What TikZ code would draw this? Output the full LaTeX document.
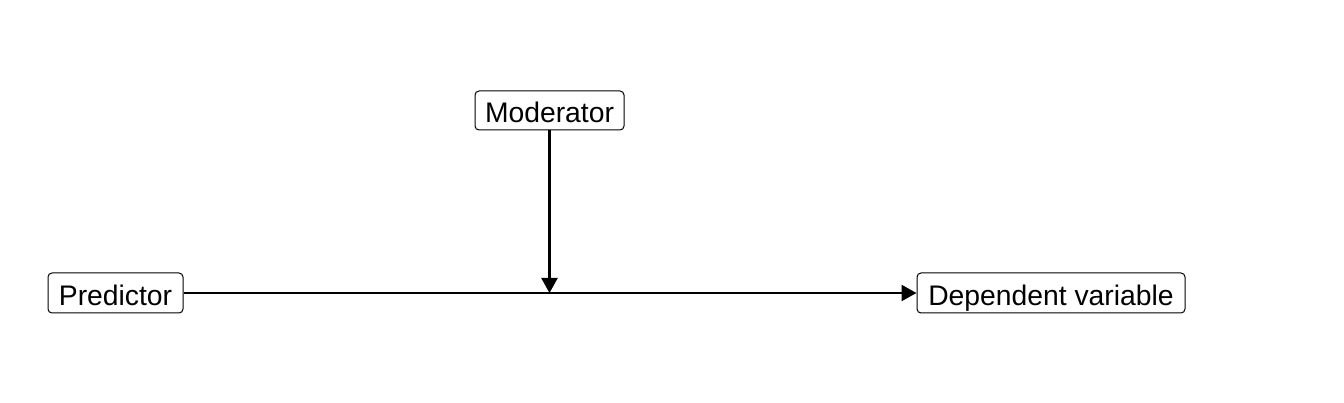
\documentclass[tikz,border=0pt]{standalone}
\usepackage{fontspec}
\setmainfont{Liberation Sans}
\usetikzlibrary{arrows.meta}
\begin{document}
\begin{tikzpicture}[x=1pt,y=-1pt,
  varbox/.style={draw, line width=1pt, rounded corners=4pt, inner sep=0pt, minimum height=40pt, font=\fontsize{28.3}{30}\selectfont, text height=26pt, text depth=1pt},
  conn/.style={line width=2.4pt, -{Triangle[length=15pt,width=16pt]}}]
\useasboundingbox (0,0) rectangle (1344,403);
\node[varbox, minimum width=135pt] (pred) at (115.5,293) {Predictor};
\node[varbox, minimum width=149pt, minimum height=39pt] (mod) at (549.5,110.5) {Moderator};
\node[varbox, minimum width=268pt] (dv) at (1051,293) {Dependent variable};
\coordinate (mid) at (549.5,293);
\draw[conn] (pred.east) -- (dv.west);
\draw[conn] (mod.south) -- (mid);
\end{tikzpicture}
\end{document}
